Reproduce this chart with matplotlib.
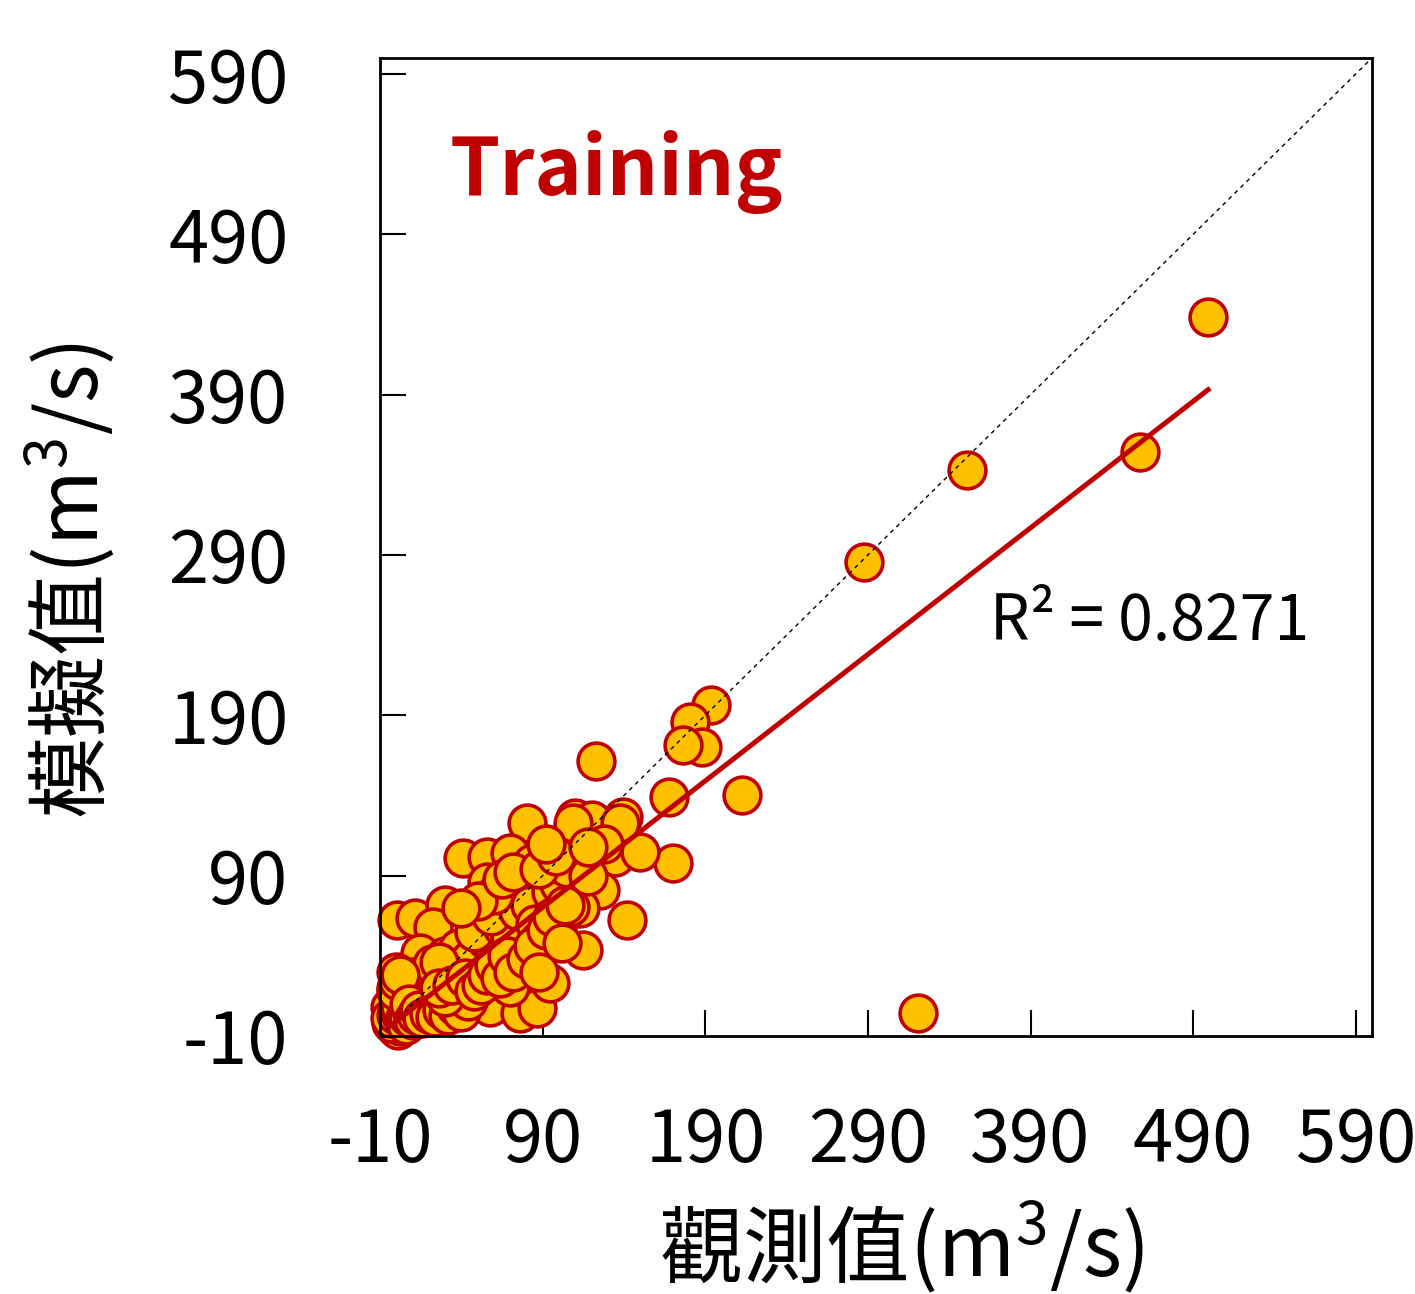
import matplotlib
matplotlib.use("Agg")
import matplotlib.pyplot as plt
import numpy as np

plt.rcParams['font.family'] = ['Noto Sans CJK TC', 'DejaVu Sans']
plt.rcParams['mathtext.fontset'] = 'custom'
plt.rcParams['mathtext.rm'] = 'Noto Sans CJK TC'
plt.rcParams['mathtext.it'] = 'Noto Sans CJK TC'
plt.rcParams['axes.unicode_minus'] = False

observed = [
    499.2, 457.4, 351.0, 287.7, 320.9, 212.6, 193.6, 180.6, 188.0, 176.3,
    122.8, 167.7, 139.4, 110.0, 120.4, 170.2, 134.5, 114.2, 149.9, 110.0,
    125.3, 113.0, 141.9, 80.4, 108.7, 137.6, 41.0, 55.8, 70.0, 83.5,
    55.8, 111.2, 0.5, 11.5, 30.0, 22.6, 45.4, 53.3, 71.8, 90.2,
    90.2, 77.3, 98.9, 106.9, 114.8, 94.6, 77.9, 63.8, 49.7, 33.1,
    14.6, 8.5, 22.6, 43.5, 57.7, 76.1, 86.6, 94.6, 70.0, 51.5,
    0.5, -3.8, 0.0, 1.0, 2.0, 3.0, 5.0, 4.0, 6.0, 8.0,
    2.0, 10.0, 12.0, 15.0, 7.0, 18.0, 20.0, 14.0, 25.0, 28.0,
    22.0, 35.0, 30.0, 40.0, 38.0, 45.0, 55.0, 60.0, 48.0, 65.0,
    70.0, 58.0, 75.0, 82.0, 85.0, 95.0, 100.0, 105.0, -2.0, -1.0,
    3.0, 5.0, 9.0, 1.0, 0.0, 0.0, 4.0, 11.0, 16.0, 24.0,
    32.0, 36.0, 62.0, 68.0, 88.0, 118.0, 128.0, 26.0, 18.0, 6.0,
    0.0, 1.0, 2.0, -3.0, -4.0, 0.0, 1.0, 3.0, 2.0, 5.0,
    6.0, 7.0, 9.0, 4.0, 0.0, 1.0, 2.0, 8.0, 10.0, 12.0,
    14.0, 16.0, 20.0, 24.0, 28.0, 32.0, 36.0, 40.0, 44.0, 30.0,
    26.0, 34.0, 42.0, 48.0, 52.0, 56.0, 60.0, 64.0, 68.0, 72.0,
    80.0, 84.0, 88.0, 92.0, 96.0, 102.0, 104.0, 60.0, 50.0, 40.0,
    65.0, 72.0, 88.0, 98.0, 118.0, 92.0,
]
simulated = [
    438.5, 354.3, 343.0, 285.7, 4.3, 140.3, 196.5, 185.9, 170.3, 171.5,
    161.5, 139.1, 126.6, 126.0, 124.7, 98.0, 101.7, 101.7, 104.8, 88.6,
    81.1, 69.9, 62.4, 122.9, 122.9, 122.9, 101.0, 101.7, 104.2, 97.9,
    86.1, 89.2, 62.4, 63.6, 71.7, 58.0, 66.7, 64.2, 76.7, 83.0,
    62.4, 62.4, 58.0, 70.5, 43.6, 49.9, 35.5, 41.8, 48.0, 33.0,
    41.8, 26.8, 16.8, 24.9, 8.1, 4.3, 7.5, 23.1, 20.6, 31.2,
    1.9, 8.1, 0.0, 2.0, 1.0, 5.0, 3.0, 8.0, 6.0, 4.0,
    10.0, 12.0, 8.0, 15.0, 18.0, 10.0, 22.0, 25.0, 18.0, 28.0,
    35.0, 25.0, 40.0, 32.0, 45.0, 38.0, 50.0, 45.0, 55.0, 58.0,
    52.0, 65.0, 68.0, 72.0, 60.0, 80.0, 85.0, 95.0, -3.0, 4.0,
    -1.0, 12.0, 2.0, 15.0, 30.0, 20.0, 0.0, 6.0, 5.0, 10.0,
    20.0, 12.0, 30.0, 40.0, 50.0, 90.0, 110.0, 36.0, 2.0, 14.0,
    -5.0, -6.0, -4.0, -2.0, 1.0, 3.0, 6.0, 3.0, 8.0, 0.0,
    -3.0, 2.0, 6.0, 14.0, 18.0, 24.0, 28.0, 10.0, 0.0, 3.0,
    6.0, 1.0, 4.0, 2.0, 6.0, 3.0, 9.0, 5.0, 12.0, 14.0,
    20.0, 22.0, 26.0, 18.0, 22.0, 28.0, 34.0, 26.0, 40.0, 30.0,
    38.0, 46.0, 30.0, 56.0, 64.0, 48.0, 72.0, 78.0, 74.0, 70.0,
    88.0, 92.0, 94.0, 102.0, 108.0, 110.0,
]

# linear trend line
fit_slope = 0.789
fit_intercept = -0.8
r_squared = 0.8271

ticks = [-10, 90, 190, 290, 390, 490, 590]
lims = [-10, 600]

fig = plt.figure(figsize=(14.15, 12.94), dpi=100)
ax = fig.add_axes([0.2686, 0.1994, 0.701, 0.7558])

ax.scatter(observed, simulated, s=700, facecolor="#FFC000",
           edgecolor="#C00000", linewidth=2.6, zorder=2, clip_on=False)

ax.plot(lims, lims, color="black", linestyle=(0, (3, 3)), linewidth=1.0, zorder=3)

fit_x = np.array([min(observed), max(observed)])
ax.plot(fit_x, fit_slope * fit_x + fit_intercept, color="#C00000",
        linewidth=3.6, zorder=4)

ax.set_xlim(lims)
ax.set_ylim(lims)
ax.set_xticks(ticks)
ax.set_yticks(ticks)
ax.tick_params(direction="in", length=19, width=1.5, labelsize=52)
ax.tick_params(axis="y", pad=66)
ax.tick_params(axis="x", pad=50)
for sp in ax.spines.values():
    sp.set_linewidth(2)

ax.set_xlabel("觀測值(m$^3$/s)", fontsize=60)
ax.set_ylabel("模擬值(m$^3$/s)", fontsize=59, va="center")
ax.xaxis.set_label_coords(0.526, -0.167)
ax.yaxis.set_label_coords(-0.312, 0.466)

ax.text(0.07, 0.86, "Training", transform=ax.transAxes, fontsize=58,
        fontweight="bold", color="#C00000", va="baseline")
ax.text(0.615, 0.405, f"R² = {r_squared}", transform=ax.transAxes,
        fontsize=45, va="baseline")

fig.savefig("out.png", dpi=100)
plt.close(fig)
